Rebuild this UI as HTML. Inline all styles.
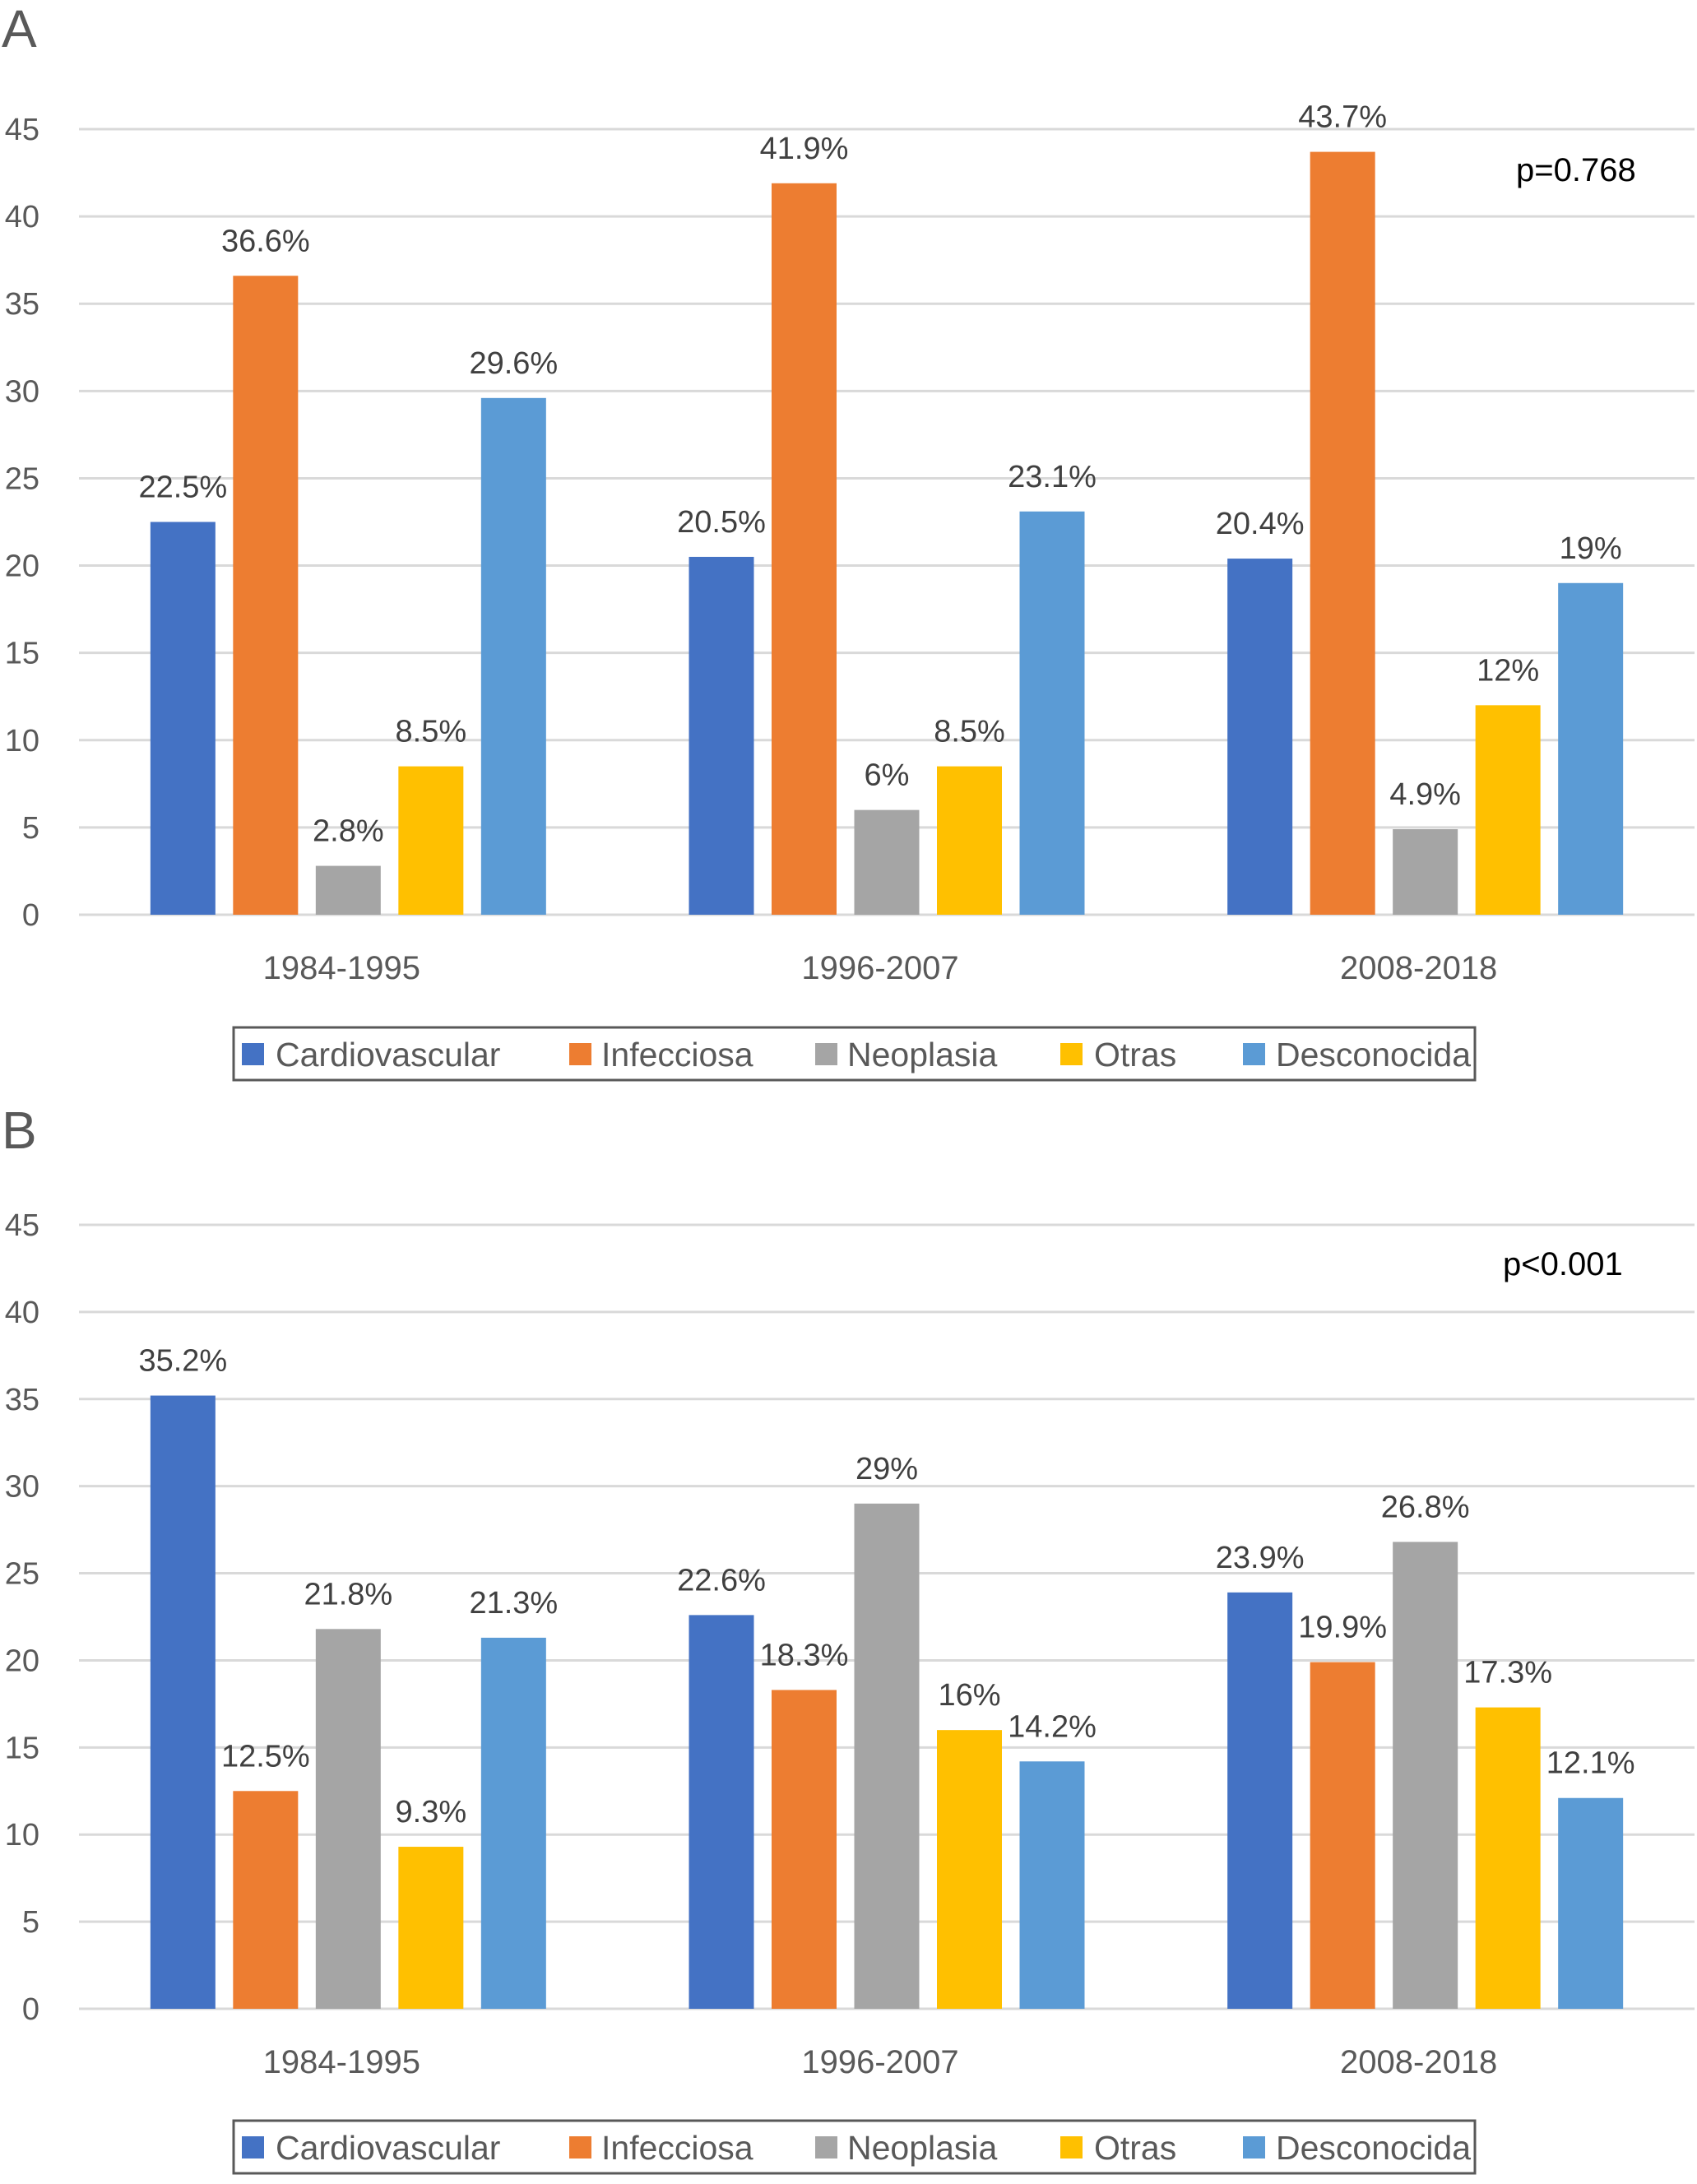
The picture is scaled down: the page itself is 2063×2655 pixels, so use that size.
<!DOCTYPE html>
<html><head><meta charset="utf-8"><style>
html,body{margin:0;padding:0;background:#fff;}
svg{display:block;font-family:"Liberation Sans",sans-serif;}
</style></head><body>
<svg id="chart" width="2063" height="2655" viewBox="0 0 2063 2655" xmlns="http://www.w3.org/2000/svg"></svg>
<script>
const categories = ["1984-1995","1996-2007","2008-2018"];
const seriesNames = ["Cardiovascular","Infecciosa","Neoplasia","Otras","Desconocida"];
const seriesColors = ["#4472C4","#ED7D31","#A5A5A5","#FFC000","#5B9BD5"];
const valuesA = [[22.5,20.5,20.4],[36.6,41.9,43.7],[2.8,6,4.9],[8.5,8.5,12],[29.6,23.1,19]];
const labelsA = [["22.5%","20.5%","20.4%"],["36.6%","41.9%","43.7%"],["2.8%","6%","4.9%"],["8.5%","8.5%","12%"],["29.6%","23.1%","19%"]];
const valuesB = [[35.2,22.6,23.9],[12.5,18.3,19.9],[21.8,29,26.8],[9.3,16,17.3],[21.3,14.2,12.1]];
const labelsB = [["35.2%","22.6%","23.9%"],["12.5%","18.3%","19.9%"],["21.8%","29%","26.8%"],["9.3%","16%","17.3%"],["21.3%","14.2%","12.1%"]];
const yTicks = [0,5,10,15,20,25,30,35,40,45];
const NS="http://www.w3.org/2000/svg";
const svg=document.getElementById('chart');
function mk(tag,attrs,parent){const e=document.createElementNS(NS,tag);for(const k in attrs)e.setAttribute(k,attrs[k]);(parent||svg).appendChild(e);return e;}
function panel(letter,letterY,yTop,yZero,values,labels,pText,pX,pY,catY,legY,prefix){
  const g=mk('g',{});
  
  
  const L=96,R=2060;
  const y=v=>yZero-(v/45)*(yZero-yTop);
  const t=mk('text',{x:2,y:letterY,'font-size':64,fill:'#595959'},g);t.textContent=letter;
  
  
  yTicks.forEach(v=>{
    const ln=mk('line',{x1:L,x2:R,y1:y(v),y2:y(v),stroke:'#D9D9D9','stroke-width':3},g);
    
    
    const tx=mk('text',{x:48,y:y(v)+13,'font-size':38,fill:'#595959','text-anchor':'end'},g);tx.textContent=v;
    
    
  });
  const cw=(R-L)/3, bw=79, step=100.5;
  categories.forEach((c,ci)=>{
    const cx=L+cw*(ci+0.5);
    const ct=mk('text',{x:cx-8,y:catY,'font-size':40,fill:'#595959','text-anchor':'middle'},g);ct.textContent=c;
    
    
    seriesNames.forEach((s,si)=>{
      const x=cx+(si-2)*step-bw/2;
      const v=values[si][ci];
      const r=mk('rect',{x:x,y:y(v),width:bw,height:yZero-y(v),fill:seriesColors[si]},g);
      
      
      const lt=mk('text',{x:x+bw/2,y:y(v)-30,'font-size':38,fill:'#404040','text-anchor':'middle'},g);lt.textContent=labels[si][ci];
      
      
    });
  });
  const p=mk('text',{x:pX,y:pY,'font-size':40,fill:'#000'},g);p.textContent=pText;
  
  
  const lg=mk('g',{},g);
  
  
  const box=mk('rect',{x:284,y:legY,width:1509,height:64,fill:'none',stroke:'#595959','stroke-width':3},lg);
  
  
  const sw=[294,692,991,1289,1511], tx=[335,731,1030,1330,1551];
  seriesNames.forEach((s,si)=>{
    const r=mk('rect',{x:sw[si],y:legY+19,width:27,height:27,fill:seriesColors[si]},lg);
    
    
    const t2=mk('text',{x:tx[si],y:legY+47,'font-size':41,fill:'#595959'},lg);t2.textContent=s;
    
    
  });
}
panel('A',57,157,1112,valuesA,labelsA,'p=0.768',1843,220,1190,1249,'a');
panel('B',1396,1489,2442,valuesB,labelsB,'p<0.001',1827,1550,2520,2578,'b');
</script>
</body></html>
